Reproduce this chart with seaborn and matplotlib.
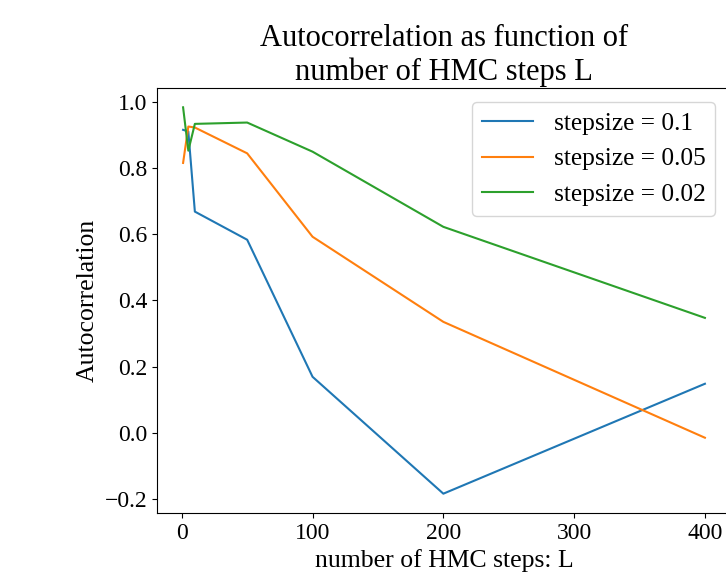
import pandas as pd
import matplotlib
matplotlib.use("Agg")
import matplotlib.pyplot as plt
import seaborn as sns

# number of HMC steps
steps = [1, 5, 10, 50, 100, 200, 400]

# autocorrelation per stepsize
acf_01 = [0.915, 0.91, 0.668, 0.583, 0.169, -0.184, 0.148]
acf_005 = [0.815, 0.925, 0.922, 0.844, 0.592, 0.335, -0.015]
acf_002 = [0.983, 0.852, 0.933, 0.937, 0.849, 0.622, 0.347]

labels = ["stepsize = 0.1", "stepsize = 0.05", "stepsize = 0.02"]

plt.rcParams['font.family'] = ['Liberation Serif', 'DejaVu Serif']

frames = []
for lab, vals in zip(labels, [acf_01, acf_005, acf_002]):
    frames.append(pd.DataFrame({'L': steps, 'acf': vals, 'series': lab}))
df = pd.concat(frames, ignore_index=True)

fig = plt.figure(figsize=(7.26, 5.77), dpi=100)
ax = fig.add_axes([157 / 726, 1 - 513 / 577, 574 / 726, 425 / 577])

sns.lineplot(data=df, x='L', y='acf', hue='series', hue_order=labels,
             palette=['#1f77b4', '#ff7f0e', '#2ca02c'], linewidth=1.5,
             ax=ax, estimator=None)

ax.set_title("Autocorrelation as function of\nnumber of HMC steps L", fontsize=22)
ax.set_xlabel("number of HMC steps: L", fontsize=18.5)
ax.set_ylabel("Autocorrelation", fontsize=18.5)
ax.tick_params(labelsize=17)
ax.set_xticks([0, 100, 200, 300, 400])

handles, labs = ax.get_legend_handles_labels()
ax.legend(handles, labs, loc='upper right', fontsize=18.3, title=None,
          bbox_to_anchor=(0.995, 0.997))

fig.savefig('out.png', dpi=100)
